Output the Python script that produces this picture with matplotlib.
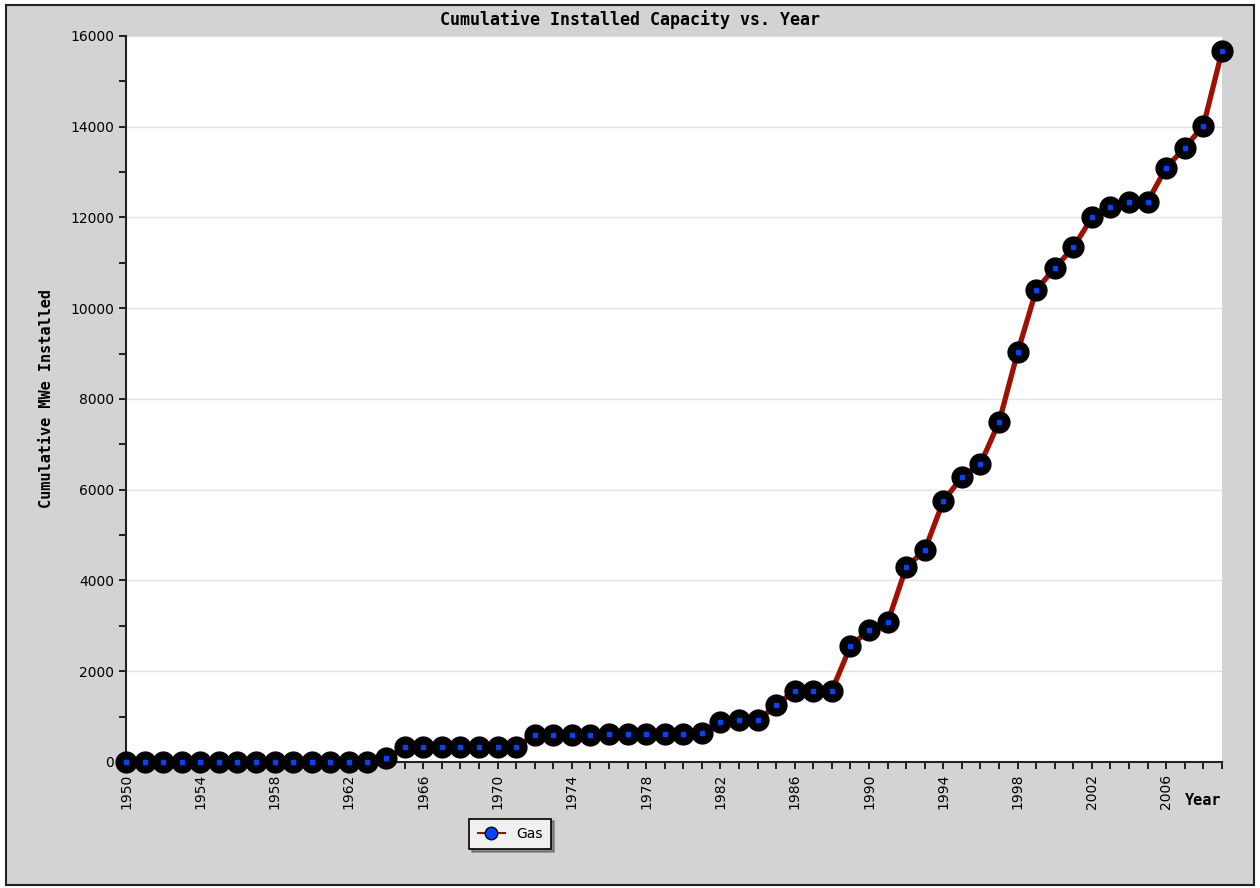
import numpy as np
import matplotlib.pyplot as plt
from matplotlib.lines import Line2D
from matplotlib.patches import Rectangle

years = list(range(1950, 2010))
gas_mwe = [0, 0, 0, 0, 0, 0, 0, 0, 0, 0, 0, 0, 0, 0,
           80, 330, 330, 330, 330, 330, 330, 330,
           590, 590, 590, 590, 610, 620, 620, 620, 620, 645,
           885, 915, 915, 1250, 1575, 1575, 1575, 2550, 2910, 3075,
           4290, 4670, 5750, 6280, 6570, 7490, 9030, 10400, 10890, 11340,
           12000, 12220, 12350, 12350, 13100, 13540, 14020, 15660]
label_years = list(range(1950, 2007, 4))

bg = '#d3d3d3'
fig = plt.figure(figsize=(12.6, 8.88), dpi=100, facecolor='white')
fig.patches.append(Rectangle((0.005, 0.003), 0.99, 0.991, transform=fig.transFigure,
                             facecolor=bg, edgecolor='#222222', linewidth=1.5, zorder=-10))
ax = fig.add_axes([0.1, 0.1419, 0.8698, 0.8176])
ax.set_facecolor('white')

ax.plot(years, gas_mwe, color='#a01000', linewidth=3.8, zorder=3, clip_on=False)
ax.plot(years, gas_mwe, linestyle='none', marker='o', markersize=15,
        markerfacecolor='black', markeredgecolor='black', zorder=4, clip_on=False)
ax.plot(years, gas_mwe, linestyle='none', marker='s', markersize=3.2,
        markerfacecolor='#0044ff', markeredgecolor='#0044ff', zorder=5, clip_on=False)

ax.set_xlim(1950, 2009)
ax.set_ylim(0, 16000)
ax.set_xticks(years)
ax.set_xticklabels([str(y) if y in label_years else '' for y in years],
                   rotation=90, fontsize=10)
ax.set_yticks(range(0, 16001, 2000))
ax.set_yticks(range(1000, 16000, 2000), minor=True)
ax.tick_params(axis='y', which='both', length=5, width=1.2, labelsize=10, direction='out')
ax.tick_params(axis='x', length=5, width=1.2, direction='out')
ax.grid(axis='y', which='major', color='#e3e3e3', linewidth=1)
ax.set_axisbelow(True)
for s in ['top', 'right']:
    ax.spines[s].set_visible(False)
for s in ['left', 'bottom']:
    ax.spines[s].set_linewidth(1.5)
    ax.spines[s].set_color('#222222')

ax.set_ylabel('Cumulative MWe Installed', fontsize=11, fontweight='bold',
              family='DejaVu Sans Mono', labelpad=12)
fig.text(1221 / 1260, 1 - 800 / 888, 'Year', ha='right', va='center',
         fontsize=11, fontweight='bold', family='DejaVu Sans Mono')
fig.text(0.5, 1 - 20 / 888, 'Cumulative Installed Capacity vs. Year', ha='center',
         va='center', fontsize=12, fontweight='bold', family='DejaVu Sans Mono')

handle = Line2D([], [], color='#a01000', linewidth=1.5, marker='o', markersize=9,
                markerfacecolor='#0044ff', markeredgecolor='black')
leg = fig.legend([handle], ['Gas'], loc='center', bbox_to_anchor=(0.405, 1 - 834 / 888),
                 fancybox=False, shadow=True, edgecolor='black', facecolor='#f0f0f0',
                 framealpha=1, fontsize=10, handlelength=2, borderpad=0.6)
leg.get_frame().set_linewidth(1.2)

fig.savefig('out.png', dpi=100, facecolor=fig.get_facecolor())
